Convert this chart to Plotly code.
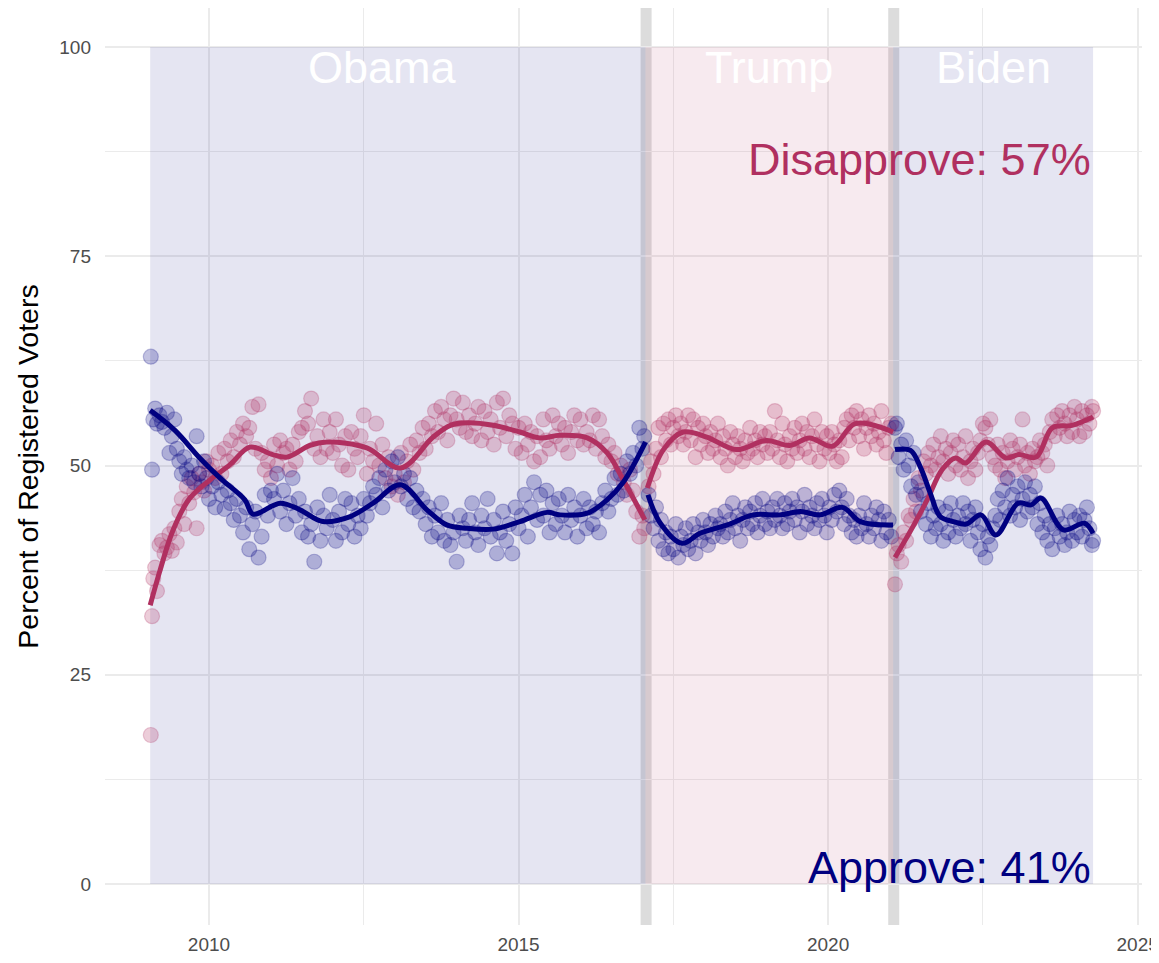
import plotly.graph_objects as go

# ---------------- data ----------------
presidents = ["Obama", "Trump", "Biden"]
term_start = [2009.05, 2017.05, 2021.05]
term_end = [2017.05, 2021.05, 2024.28]
label_x = [2012.8, 2019.05, 2022.67]
transitions = [2017.06, 2021.06]

# poll dates (decimal years) with approve / disapprove shares
obama_dates = [2009.06, 2009.08, 2009.10, 2009.13, 2009.16, 2009.20, 2009.24, 2009.28, 2009.32, 2009.36,
               2009.40, 2009.44, 2009.48, 2009.52, 2009.56, 2009.60, 2009.64, 2009.68, 2009.72, 2009.76,
               2009.80, 2009.84, 2009.88, 2009.92, 2009.96, 2010.00, 2010.05, 2010.10, 2010.15, 2010.20,
               2010.25, 2010.30, 2010.35, 2010.40, 2010.45, 2010.50, 2010.55, 2010.60, 2010.65, 2010.70,
               2010.75, 2010.80, 2010.85, 2010.90, 2010.95, 2011.00, 2011.05, 2011.10, 2011.15, 2011.20,
               2011.25, 2011.30, 2011.35, 2011.40, 2011.45, 2011.50, 2011.55, 2011.60, 2011.65, 2011.70,
               2011.75, 2011.80, 2011.85, 2011.90, 2011.95, 2012.00, 2012.05, 2012.10, 2012.15, 2012.20,
               2012.25, 2012.30, 2012.35, 2012.40, 2012.45, 2012.50, 2012.55, 2012.60, 2012.65, 2012.70,
               2012.75, 2012.80, 2012.85, 2012.90, 2012.95, 2013.00, 2013.05, 2013.10, 2013.15, 2013.20,
               2013.25, 2013.30, 2013.35, 2013.40, 2013.45, 2013.50, 2013.55, 2013.60, 2013.65, 2013.70,
               2013.75, 2013.80, 2013.85, 2013.90, 2013.95, 2014.00, 2014.05, 2014.10, 2014.15, 2014.20,
               2014.25, 2014.30, 2014.35, 2014.40, 2014.45, 2014.50, 2014.55, 2014.60, 2014.65, 2014.70,
               2014.75, 2014.80, 2014.85, 2014.90, 2014.95, 2015.00, 2015.05, 2015.10, 2015.15, 2015.20,
               2015.25, 2015.30, 2015.35, 2015.40, 2015.45, 2015.50, 2015.55, 2015.60, 2015.65, 2015.70,
               2015.75, 2015.80, 2015.85, 2015.90, 2015.95, 2016.00, 2016.05, 2016.10, 2016.15, 2016.20,
               2016.25, 2016.30, 2016.35, 2016.40, 2016.45, 2016.50, 2016.55, 2016.60, 2016.65, 2016.70,
               2016.75, 2016.80, 2016.85, 2016.90, 2016.95, 2017.00, 2017.03]
obama_approve = [63.0, 49.5, 55.5, 56.8, 55.0, 56.0, 55.2, 54.5, 56.3, 51.5,
                 53.5, 55.5, 52.0, 50.5, 49.0, 51.0, 49.5, 48.5, 50.0, 48.0,
                 53.5, 49.0, 47.5, 50.5, 48.5, 46.0, 47.5, 45.0, 48.0, 46.5,
                 44.8, 47.0, 45.5, 43.5, 46.0, 44.0, 42.0, 45.0, 40.0, 43.0,
                 44.5, 39.0, 41.5, 46.5, 44.0, 47.0, 46.0, 49.0, 44.5, 47.0,
                 43.0, 45.5, 48.5, 44.0, 46.0, 42.0, 44.5, 41.5, 43.0, 38.5,
                 45.0, 41.0, 44.0, 42.5, 46.5, 43.5, 41.0, 44.5, 42.0, 46.0,
                 43.0, 45.5, 41.5, 44.0, 42.5, 46.0, 44.0, 45.5, 47.5, 46.5,
                 48.5, 45.0, 49.5, 47.0, 50.5, 48.0, 51.0, 47.5, 49.0, 46.0,
                 48.5, 45.0, 47.0, 44.5, 46.0, 43.0, 45.0, 41.5, 44.0, 42.0,
                 45.5, 41.0, 43.5, 40.5, 42.0, 38.5, 44.0, 42.5, 41.0, 43.5,
                 45.5, 42.0, 40.5, 44.0, 42.5, 46.0, 41.5, 43.5, 39.5, 42.0,
                 44.5, 41.0, 43.0, 39.5, 45.0, 42.5, 44.0, 46.5, 41.5, 45.0,
                 48.0, 43.5, 46.5, 44.0, 47.0, 42.0, 45.5, 43.0, 46.0, 44.0,
                 42.0, 46.5, 43.5, 45.0, 41.5, 44.0, 46.0, 42.5, 45.0, 43.0,
                 44.5, 42.0, 45.5, 47.0, 44.5, 46.0, 48.5, 46.5, 49.0, 47.0,
                 50.5, 49.0, 51.5, 50.0, 54.5, 52.0, 53.5]
obama_disapprove = [17.8, 32.0, 36.5, 37.8, 35.0, 40.5, 41.0, 39.5, 40.2, 41.8,
                    39.8, 42.5, 40.8, 44.5, 46.0, 43.0, 47.5, 45.5, 48.5, 46.8,
                    42.5, 49.0, 48.0, 47.0, 50.5, 49.5, 50.0, 48.5, 51.5, 49.0,
                    52.0, 50.5, 53.0, 51.0, 54.0, 52.5, 55.0, 53.5, 54.5, 57.0,
                    52.0, 57.3, 51.5, 49.5, 50.5, 48.5, 52.5, 50.0, 53.0, 51.5,
                    52.0, 49.5, 52.5, 50.5, 54.0, 54.5, 56.5, 55.0, 58.0, 52.0,
                    53.5, 51.0, 55.5, 52.0, 54.0, 51.5, 55.5, 52.5, 50.0, 53.5,
                    49.5, 54.0, 52.0, 51.0, 53.5, 56.0, 49.0, 52.0, 50.5, 55.0,
                    50.0, 52.5, 48.5, 51.0, 47.5, 49.0, 46.5, 51.5, 48.0, 50.5,
                    52.5, 49.5, 53.0, 51.5, 54.5, 52.0, 55.0, 53.5, 56.5, 54.0,
                    57.0, 55.5, 53.0, 56.0, 58.0, 55.5, 54.5, 57.5, 54.0, 56.0,
                    53.5, 55.0, 57.0, 53.0, 56.5, 54.0, 55.5, 52.5, 57.5, 54.5,
                    58.0, 53.5, 56.0, 55.0, 52.0, 54.5, 51.5, 55.0, 52.5, 54.0,
                    50.5, 53.5, 51.0, 55.5, 53.0, 52.0, 56.0, 53.5, 55.0, 52.5,
                    54.5, 51.5, 54.0, 56.0, 53.0, 55.5, 52.5, 54.0, 53.0, 56.0,
                    52.0, 55.5, 53.5, 51.0, 52.5, 50.5, 51.5, 49.0, 50.0, 48.0,
                    46.5, 49.5, 47.0, 44.5, 41.5, 44.0, 42.5]

trump_dates = [2017.10, 2017.14, 2017.18, 2017.22, 2017.26, 2017.30, 2017.34, 2017.38, 2017.42, 2017.46,
               2017.50, 2017.54, 2017.58, 2017.62, 2017.66, 2017.70, 2017.74, 2017.78, 2017.82, 2017.86,
               2017.90, 2017.94, 2017.98, 2018.02, 2018.06, 2018.10, 2018.14, 2018.18, 2018.22, 2018.26,
               2018.30, 2018.34, 2018.38, 2018.42, 2018.46, 2018.50, 2018.54, 2018.58, 2018.62, 2018.66,
               2018.70, 2018.74, 2018.78, 2018.82, 2018.86, 2018.90, 2018.94, 2018.98, 2019.02, 2019.06,
               2019.10, 2019.14, 2019.18, 2019.22, 2019.26, 2019.30, 2019.34, 2019.38, 2019.42, 2019.46,
               2019.50, 2019.54, 2019.58, 2019.62, 2019.66, 2019.70, 2019.74, 2019.78, 2019.82, 2019.86,
               2019.90, 2019.94, 2019.98, 2020.02, 2020.06, 2020.10, 2020.14, 2020.18, 2020.22, 2020.26,
               2020.30, 2020.34, 2020.38, 2020.42, 2020.46, 2020.50, 2020.54, 2020.58, 2020.62, 2020.66,
               2020.70, 2020.74, 2020.78, 2020.82, 2020.86, 2020.90, 2020.94, 2020.98, 2021.02]
trump_approve = [46.5, 44.0, 42.5, 45.0, 41.0, 43.5, 40.0, 42.0, 39.5, 41.5,
                 40.0, 43.0, 39.0, 41.5, 40.5, 42.5, 40.0, 41.0, 43.0, 39.5,
                 42.0, 41.0, 43.5, 42.0, 40.5, 43.0, 41.5, 44.0, 42.5, 43.0,
                 41.5, 44.5, 42.0, 43.5, 45.5, 42.5, 44.0, 41.0, 43.5, 45.0,
                 42.5, 44.5, 43.0, 45.5, 42.0, 44.0, 46.0, 43.0, 44.5, 42.5,
                 45.0, 43.5, 46.0, 44.0, 42.5, 45.5, 43.0, 44.5, 46.0, 43.5,
                 45.0, 42.0, 44.5, 46.5, 43.0, 45.0, 44.0, 42.5, 45.5, 43.5,
                 46.0, 44.0, 42.0, 45.0, 43.5, 46.5, 44.5, 47.0, 45.0, 43.0,
                 46.0, 44.0, 42.0, 43.5, 41.5, 44.0, 42.5, 45.5, 43.0, 41.5,
                 44.0, 42.5, 45.0, 43.5, 41.0, 44.5, 42.0, 43.5, 41.5]
trump_disapprove = [47.5, 50.5, 49.0, 52.0, 54.5, 51.0, 55.0, 53.0, 55.5, 52.5,
                    54.5, 56.0, 53.5, 55.0, 52.5, 54.0, 56.0, 53.0, 55.5, 51.0,
                    54.5, 52.5, 55.0, 53.5, 51.5, 54.0, 52.0, 53.0, 55.0, 51.0,
                    53.5, 52.0, 50.0, 54.0, 52.5, 51.0, 53.5, 52.0, 50.5, 53.0,
                    51.5, 54.5, 52.0, 53.0, 51.0, 54.0, 52.5, 53.5, 51.5, 54.0,
                    52.0, 56.5, 53.0, 51.0, 55.0, 52.5, 50.5, 53.5, 52.0, 54.5,
                    51.5, 53.0, 55.0, 52.0, 54.0, 51.0, 53.5, 55.5, 52.5, 50.5,
                    54.0, 52.0, 53.5, 51.5, 54.0, 52.5, 50.5, 53.0, 51.0, 54.5,
                    55.5, 53.0, 56.0, 54.5, 56.5, 53.5, 55.5, 52.0, 54.5, 56.0,
                    53.5, 55.0, 52.5, 54.0, 56.5, 53.0, 51.5, 54.5, 55.0]

biden_dates = [2021.08, 2021.11, 2021.14, 2021.18, 2021.22, 2021.26, 2021.30, 2021.34, 2021.38, 2021.42,
               2021.46, 2021.50, 2021.54, 2021.58, 2021.62, 2021.66, 2021.70, 2021.74, 2021.78, 2021.82,
               2021.86, 2021.90, 2021.94, 2021.98, 2022.02, 2022.06, 2022.10, 2022.14, 2022.18, 2022.22,
               2022.26, 2022.30, 2022.34, 2022.38, 2022.42, 2022.46, 2022.50, 2022.54, 2022.58, 2022.62,
               2022.66, 2022.70, 2022.74, 2022.78, 2022.82, 2022.86, 2022.90, 2022.94, 2022.98, 2023.02,
               2023.06, 2023.10, 2023.14, 2023.18, 2023.22, 2023.26, 2023.30, 2023.34, 2023.38, 2023.42,
               2023.46, 2023.50, 2023.54, 2023.58, 2023.62, 2023.66, 2023.70, 2023.74, 2023.78, 2023.82,
               2023.86, 2023.90, 2023.94, 2023.98, 2024.02, 2024.06, 2024.10, 2024.14, 2024.18, 2024.22,
               2024.26, 2024.28]
biden_approve = [54.5, 55.0, 51.0, 52.5, 49.5, 53.0, 50.0, 47.5, 51.5, 46.5,
                 48.0, 44.5, 46.5, 43.0, 45.5, 41.5, 44.0, 42.5, 45.0, 43.0,
                 41.0, 44.5, 42.0, 45.5, 43.5, 41.5, 44.0, 42.5, 45.5, 43.0,
                 44.5, 41.0, 43.5, 45.0, 42.0, 40.0, 43.0, 39.0, 41.5, 40.5,
                 42.5, 44.0, 46.0, 43.5, 47.0, 45.0, 48.5, 44.0, 46.5, 45.0,
                 47.5, 43.5, 46.0, 48.0, 44.5, 46.5, 45.0, 47.5, 43.0, 45.5,
                 42.0, 44.0, 41.0, 43.0, 40.0, 42.5, 44.0, 41.5, 43.0, 40.5,
                 42.0, 44.5, 41.0, 43.5, 42.0, 44.0, 41.5, 43.5, 45.0, 42.5,
                 40.5, 41.0]
biden_disapprove = [35.8, 39.5, 40.5, 38.5, 42.0, 41.0, 44.0, 43.5, 46.0, 44.5,
                    48.5, 47.0, 50.5, 49.0, 51.5, 50.0, 52.5, 49.5, 51.0, 53.5,
                    50.5, 52.0, 49.0, 51.5, 53.0, 50.0, 52.5, 49.5, 51.0, 53.5,
                    48.5, 50.5, 52.0, 49.5, 51.5, 53.0, 55.0, 54.5, 52.5, 55.5,
                    51.0, 50.0, 52.5, 49.5, 51.5, 48.5, 50.5, 53.0, 52.0, 49.5,
                    51.0, 52.5, 55.5, 50.0, 51.5, 49.0, 52.0, 50.5, 51.0, 53.0,
                    51.5, 52.5, 50.0, 54.0, 55.5, 53.5, 56.0, 54.5, 56.5, 55.0,
                    53.5, 56.0, 54.0, 57.0, 55.5, 53.5, 56.5, 54.0, 56.0, 55.0,
                    57.0, 56.5]

# smoothed trend lines, one per presidency
obama_trend_x = [2009.05, 2009.45, 2009.85, 2010.18, 2010.58, 2010.71, 2011.15, 2011.47, 2011.84, 2012.28,
                 2012.65, 2013.09, 2013.52, 2013.84, 2014.17, 2014.59, 2015.02, 2015.46, 2015.67, 2016.11,
                 2016.43, 2016.69, 2017.05]
obama_trend_approve = [56.6, 54.2, 50.9, 48.5, 45.9, 44.2, 45.5, 44.7, 43.3, 43.9,
                       45.5, 47.7, 44.7, 42.9, 42.5, 42.4, 43.3, 44.4, 44.1, 44.3,
                       45.9, 48.0, 52.8]
obama_trend_dx = [2009.05, 2009.21, 2009.42, 2009.69, 2010.02, 2010.34, 2010.66, 2011.03, 2011.26, 2011.63,
                  2011.90, 2012.55, 2013.09, 2013.62, 2013.90, 2014.17, 2014.59, 2015.02, 2015.34, 2015.67,
                  2016.11, 2016.43, 2016.69, 2017.04]
obama_trend_disapprove = [33.3, 37.5, 42.3, 46.1, 48.3, 50.1, 52.2, 51.3, 51.0, 52.4,
                          52.8, 52.1, 49.7, 53.4, 54.8, 55.1, 54.8, 54.0, 53.3, 53.6,
                          53.3, 51.5, 48.3, 43.5]
trump_trend_x = [2017.09, 2017.29, 2017.64, 2017.93, 2018.37, 2018.79, 2019.22, 2019.55, 2019.87, 2020.23,
                 2020.52, 2021.05]
trump_trend_approve = [46.5, 43.1, 40.7, 41.9, 42.9, 44.1, 44.1, 44.5, 44.1, 45.0,
                       43.3, 42.9]
trump_trend_dx = [2017.08, 2017.34, 2017.66, 2018.04, 2018.52, 2019.00, 2019.38, 2019.70, 2020.07, 2020.44,
                  2021.05]
trump_trend_disapprove = [47.3, 51.9, 54.0, 53.4, 51.9, 53.0, 52.4, 53.3, 52.3, 55.0,
                          54.0]
biden_trend_x = [2021.08, 2021.33, 2021.49, 2021.65, 2021.81, 2022.02, 2022.23, 2022.47, 2022.71, 2023.07,
                 2023.28, 2023.44, 2023.80, 2024.14, 2024.28]
biden_trend_approve = [51.9, 51.8, 49.8, 46.7, 43.9, 43.3, 43.0, 44.1, 41.7, 45.5,
                       45.3, 46.1, 42.3, 43.1, 41.9]
biden_trend_dx = [2021.08, 2021.37, 2021.60, 2021.84, 2022.06, 2022.22, 2022.55, 2022.87, 2023.08, 2023.36,
                  2023.62, 2023.94, 2024.28]
biden_trend_disapprove = [39.0, 42.7, 45.9, 49.5, 50.9, 50.3, 52.8, 50.9, 51.3, 51.0,
                          54.5, 54.8, 55.8]

latest_approve = 41
latest_disapprove = 57

# ---------------- styling ----------------
NAVY = "#000080"
MAROON = "#B03060"
APP_PT = "rgba(0,0,128,0.24)"
DIS_PT = "rgba(176,48,96,0.24)"
FONT = "Liberation Sans, Arial, Helvetica, sans-serif"

fig = go.Figure()

rect_fill = {"Obama": "rgba(0,0,128,0.10)", "Trump": "rgba(176,48,96,0.10)", "Biden": "rgba(0,0,128,0.10)"}
for p, s, e in zip(presidents, term_start, term_end):
    fig.add_shape(type="rect", x0=s, x1=e, y0=0, y1=100, xref="x", yref="y",
                  fillcolor=rect_fill[p], line_width=0, layer="between")
for t in transitions:
    fig.add_shape(type="line", x0=t, x1=t, y0=0, y1=1, xref="x", yref="paper",
                  line=dict(color="#DCDCDC", width=11), layer="between")

groups = [
    (obama_dates, obama_approve, obama_disapprove),
    (trump_dates, trump_approve, trump_disapprove),
    (biden_dates, biden_approve, biden_disapprove),
]
for d, a, dis in groups:
    fig.add_trace(go.Scatter(x=d, y=dis, mode="markers", showlegend=False, hoverinfo="skip",
                             marker=dict(size=15, color=DIS_PT, line=dict(color=DIS_PT, width=1.2))))
    fig.add_trace(go.Scatter(x=d, y=a, mode="markers", showlegend=False, hoverinfo="skip",
                             marker=dict(size=15, color=APP_PT, line=dict(color=APP_PT, width=1.2))))

trends = [
    (obama_trend_dx, obama_trend_disapprove, MAROON),
    (obama_trend_x, obama_trend_approve, NAVY),
    (trump_trend_dx, trump_trend_disapprove, MAROON),
    (trump_trend_x, trump_trend_approve, NAVY),
    (biden_trend_dx, biden_trend_disapprove, MAROON),
    (biden_trend_x, biden_trend_approve, NAVY),
]
for x, y, c in trends:
    fig.add_trace(go.Scatter(x=x, y=y, mode="lines", showlegend=False, hoverinfo="skip",
                             line=dict(color=c, width=5, shape="spline", smoothing=1.0)))

for p, lx in zip(presidents, label_x):
    fig.add_annotation(x=lx, y=97.6, text=p, showarrow=False, xanchor="center", yanchor="middle",
                       font=dict(family=FONT, size=45, color="white"))

fig.add_annotation(x=term_end[-1], y=86.6, text=f"Disapprove: {latest_disapprove}%", showarrow=False,
                   xanchor="right", yanchor="middle", font=dict(family=FONT, size=45, color=MAROON))
fig.add_annotation(x=term_end[-1], y=2.0, text=f"Approve: {latest_approve}%", showarrow=False,
                   xanchor="right", yanchor="middle", font=dict(family=FONT, size=45, color=NAVY))

GRID = "#EBEBEB"
fig.update_xaxes(range=[2008.32, 2025.07], tickvals=[2010, 2015, 2020, 2025],
                 ticktext=["2010", "2015", "2020", "2025"], showgrid=True, gridcolor=GRID, gridwidth=2.4,
                 zeroline=False, showline=False, ticks="", ticklabelstandoff=6,
                 tickfont=dict(family=FONT, size=19, color="#4D4D4D"),
                 minor=dict(tickvals=[2007.5, 2012.5, 2017.5, 2022.5], showgrid=True,
                            gridcolor=GRID, gridwidth=1.2))
fig.update_yaxes(range=[-4.9, 104.66], tickvals=[0, 25, 50, 75, 100], showgrid=True, gridcolor=GRID,
                 gridwidth=2.4, zeroline=False, showline=False, ticks="", ticklabelstandoff=13,
                 tickfont=dict(family=FONT, size=19, color="#4D4D4D"),
                 title=dict(text="Percent of Registered Voters", standoff=12,
                            font=dict(family=FONT, size=28.5, color="black")),
                 minor=dict(tickvals=[12.5, 37.5, 62.5, 87.5], showgrid=True, gridcolor=GRID, gridwidth=1.2))

# the page body adds an 8px margin, so the figure is sized to fill the rest of the window
fig.update_layout(width=1151, height=955, paper_bgcolor="white", plot_bgcolor="white",
                  margin=dict(l=97, r=17, t=0, b=38), showlegend=False,
                  font=dict(family=FONT))

fig.write_html("out.html")
